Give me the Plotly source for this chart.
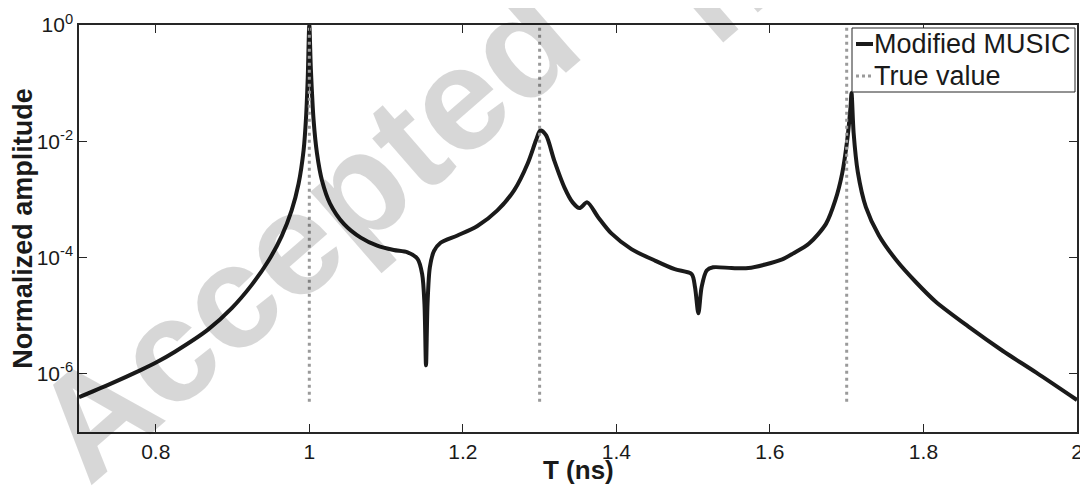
import plotly.graph_objects as go

# ---- data ----
t_ns = [0.700, 0.738, 0.781, 0.801, 0.825, 0.868, 0.899, 0.925, 0.947, 0.964,
        0.977, 0.986, 0.9926, 0.9957, 0.998, 1.000, 1.002, 1.0056, 1.010, 1.0166,
        1.027, 1.045, 1.067, 1.0885, 1.110, 1.128, 1.141, 1.147, 1.150, 1.152,
        1.154, 1.157, 1.1625, 1.171, 1.193, 1.219, 1.245, 1.267, 1.2846, 1.2954,
        1.301, 1.3085, 1.319, 1.3324, 1.343, 1.352, 1.362, 1.376, 1.3935, 1.4196,
        1.450, 1.476, 1.498, 1.5024, 1.5068, 1.511, 1.5176, 1.526, 1.550, 1.572,
        1.594, 1.616, 1.630, 1.651, 1.673, 1.685, 1.694, 1.7007, 1.705, 1.7063,
        1.709, 1.7145, 1.725, 1.742, 1.765, 1.790, 1.816, 1.860, 1.903, 1.947, 2.000]
amplitude = [3.98e-7, 6.46e-7, 1.17e-6, 1.58e-6, 2.40e-6, 5.75e-6, 1.35e-5, 3.39e-5, 8.9e-5, 2.34e-4,
             6.46e-4, 1.86e-3, 7.1e-3, 2.5e-2, 1.26e-1, 1.0, 1.8e-1, 2.3e-2, 6.2e-3, 2.1e-3,
             8.5e-4, 3.8e-4, 2.2e-4, 1.6e-4, 1.35e-4, 1.23e-4, 9.5e-5, 5.2e-5, 1.6e-5, 1.4e-6,
             1.6e-5, 6.8e-5, 1.3e-4, 1.8e-4, 2.4e-4, 3.5e-4, 6.5e-4, 1.45e-3, 4.2e-3, 1.05e-2,
             1.55e-2, 1.26e-2, 4.7e-3, 1.6e-3, 8.9e-4, 7.1e-4, 8.9e-4, 5.0e-4, 2.6e-4, 1.4e-4,
             8.9e-5, 6.3e-5, 5.2e-5, 3.1e-5, 1.1e-5, 3.1e-5, 6.0e-5, 6.8e-5, 6.6e-5, 6.6e-5,
             7.6e-5, 9.3e-5, 1.17e-4, 1.74e-4, 3.8e-4, 9.5e-4, 2.75e-3, 1.05e-2, 3.9e-2, 6.8e-2,
             1.41e-2, 2.95e-3, 7.4e-4, 2.4e-4, 8.9e-5, 3.8e-5, 1.74e-5, 6.3e-6, 2.5e-6, 1.05e-6, 3.55e-7]
true_values = [1.0, 1.3, 1.7]
true_line_low = 3.3e-7
true_line_high = 1.0

x_ticks = [0.8, 1.0, 1.2, 1.4, 1.6, 1.8, 2.0]
x_ticktext = ["0.8", "1", "1.2", "1.4", "1.6", "1.8", "2"]
y_ticks = [1e-6, 1e-4, 1e-2, 1.0]
y_ticktext = ["10<sup>-6</sup>", "10<sup>-4</sup>", "10<sup>-2</sup>", "10<sup>0</sup>"]

FONT = "Liberation Sans, Arial, sans-serif"
AX = "#262626"
INK = "#1a1a1a"
WATERMARK = "rgba(0,0,0,0.155)"

# the page body has an 8px margin, so the figure is drawn 8px right/down
OFF = 8
W, H = 1088 - OFF, 487 - OFF
# plot area in window pixels: left 79, right 1077, top 25, bottom 432
L, R, T, B = 79, 1077, 25, 432

def px(x):
    return (x - L) / (R - L)
def py(y):
    return (B - y) / (B - T)

fig = go.Figure()
fig.add_trace(go.Scatter(
    x=t_ns, y=amplitude, mode="lines", name="Modified MUSIC",
    line=dict(color=INK, width=4, shape="spline", smoothing=0.8),
    showlegend=False))
for tv in true_values:
    fig.add_trace(go.Scatter(
        x=[tv, tv], y=[true_line_low, true_line_high], mode="lines",
        name="True value", line=dict(color="#9a9a9a", width=3, dash="3px,4px"),
        showlegend=False))

shapes = []
# legend box
shapes.append(dict(type="rect", xref="paper", yref="paper",
                   x0=px(852), x1=px(1075), y0=py(92), y1=py(28),
                   line=dict(color=AX, width=1), fillcolor="white", layer="above"))
shapes.append(dict(type="line", xref="paper", yref="paper",
                   x0=px(856), x1=px(873), y0=py(44), y1=py(44),
                   line=dict(color=INK, width=4)))
shapes.append(dict(type="line", xref="paper", yref="paper",
                   x0=px(856), x1=px(873), y0=py(76), y1=py(76),
                   line=dict(color="#9a9a9a", width=3, dash="3px,3px")))

annotations = [
    # watermark words
    dict(xref="paper", yref="paper", x=px(305), y=py(232), text="<b>Accepted</b>",
         showarrow=False, xanchor="center", yanchor="middle", textangle=-41,
         font=dict(family=FONT, size=147, color=WATERMARK)),
    dict(xref="paper", yref="paper", x=px(981), y=py(-249), text="<b>manuscript</b>",
         showarrow=False, xanchor="center", yanchor="middle", textangle=-41,
         font=dict(family=FONT, size=147, color=WATERMARK)),
    # legend texts
    dict(xref="paper", yref="paper", x=px(872), y=py(44), text="Modified MUSIC",
         showarrow=False, xanchor="left", yanchor="middle",
         font=dict(family=FONT, size=27, color=INK)),
    dict(xref="paper", yref="paper", x=px(872), y=py(76), text="True value",
         showarrow=False, xanchor="left", yanchor="middle",
         font=dict(family=FONT, size=27, color=INK)),
    # x-axis title
    dict(xref="paper", yref="paper", x=0.5, y=py(470), text="<b>T (ns)</b>",
         showarrow=False, xanchor="center", yanchor="middle",
         font=dict(family=FONT, size=26, color=INK)),
]

fig.update_layout(
    width=W, height=H,
    margin=dict(l=L - OFF, r=1088 - R, t=T - OFF, b=487 - B),
    paper_bgcolor="white", plot_bgcolor="white",
    font=dict(family=FONT, color=INK),
    shapes=shapes, annotations=annotations,
    xaxis=dict(range=[0.7, 2.0], tickvals=x_ticks, ticktext=x_ticktext,
               ticks="inside", ticklen=8, tickcolor=AX, tickwidth=1,
               showline=True, linecolor=AX, linewidth=1.5, mirror="ticks",
               showgrid=False, zeroline=False, automargin=False,
               tickfont=dict(size=21, family=FONT, color=INK)),
    yaxis=dict(type="log", range=[-7, 0], tickvals=y_ticks, ticktext=y_ticktext,
               ticks="inside", ticklen=8, tickcolor=AX, tickwidth=1,
               showline=True, linecolor=AX, linewidth=1.5, mirror="ticks",
               showgrid=False, zeroline=False, automargin=False,
               tickfont=dict(size=21, family=FONT, color=INK),
               title=dict(text="<b>Normalized amplitude</b>", standoff=4,
                          font=dict(size=27, family=FONT, color=INK))),
)

fig.write_html("out.html")
